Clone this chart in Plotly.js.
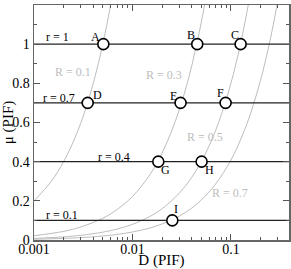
<!DOCTYPE html>
<html>
<head>
<meta charset="utf-8">
<script src="https://cdn.plot.ly/plotly-3.0.1.min.js"></script>
<style>html,body{margin:0;padding:0;background:#fff;}#chart{width:291px;height:269px;}</style>
</head>
<body>
<div id="chart"></div>
<script>
// Iso-R curves (D, mu)
const curveR01D = [0.001, 0.0015, 0.002, 0.0025, 0.003, 0.0035, 0.004, 0.0045, 0.005, 0.0055, 0.006, 0.0065];
const curveR01M = [0.2, 0.3, 0.4, 0.5, 0.6, 0.7, 0.8, 0.9, 1.0, 1.1, 1.2, 1.3];
const curveR03D = [0.001, 0.002, 0.003, 0.005, 0.007, 0.01, 0.015, 0.02, 0.025, 0.03, 0.035, 0.04, 0.045, 0.05, 0.055, 0.06];
const curveR03M = [0.022, 0.044, 0.067, 0.111, 0.156, 0.222, 0.333, 0.444, 0.556, 0.667, 0.778, 0.889, 1.0, 1.111, 1.222, 1.333];
const curveR05D = [0.001, 0.002, 0.003, 0.005, 0.007, 0.01, 0.015, 0.02, 0.03, 0.04, 0.05, 0.06, 0.07, 0.08, 0.09, 0.1, 0.11, 0.125, 0.14, 0.15, 0.16];
const curveR05M = [0.008, 0.016, 0.024, 0.04, 0.056, 0.08, 0.12, 0.16, 0.24, 0.32, 0.4, 0.48, 0.56, 0.64, 0.72, 0.8, 0.88, 1.0, 1.12, 1.2, 1.28];
const curveR07D = [0.001, 0.002, 0.003, 0.005, 0.007, 0.01, 0.015, 0.02, 0.03, 0.04, 0.05, 0.07, 0.1, 0.13, 0.16, 0.2, 0.23, 0.26, 0.3, 0.32];
const curveR07M = [0.0041, 0.0082, 0.0122, 0.0204, 0.0286, 0.041, 0.061, 0.082, 0.122, 0.163, 0.204, 0.286, 0.408, 0.531, 0.653, 0.816, 0.939, 1.061, 1.224, 1.306];
const curveLabels = ["R = 0.1", "R = 0.3", "R = 0.5", "R = 0.7"];

// Constant-r lines
const rValues = [1, 0.7, 0.4, 0.1];
const rLabels = ["r = 1", "r = 0.7", "r = 0.4", "r = 0.1"];

// Marked points
const ptNames = ["A", "B", "C", "D", "E", "F", "G", "H", "I"];
const ptD = [0.00506, 0.0455, 0.1255, 0.00351, 0.0308, 0.0883, 0.0183, 0.0504, 0.0254];
const ptM = [1, 1, 1, 0.7, 0.7, 0.7, 0.4, 0.4, 0.1];

const xTickVals = [0.001, 0.01, 0.1];
const xTickText = ["0.001", "0.01", "0.1"];
const xMinorVals = [0.002, 0.003, 0.004, 0.005, 0.006, 0.007, 0.008, 0.009, 0.02, 0.03, 0.04, 0.05, 0.06, 0.07, 0.08, 0.09, 0.2, 0.3];

const serif = "Liberation Serif, Times New Roman, serif";
const gray = "#bdbdbd";
const traces = [];
[[curveR01D, curveR01M], [curveR03D, curveR03M], [curveR05D, curveR05M], [curveR07D, curveR07M]].forEach(c => {
  traces.push({x: c[0], y: c[1], mode: "lines", line: {color: gray, width: 1, shape: "spline"}, hoverinfo: "skip"});
});
rValues.forEach(r => {
  traces.push({x: [0.0009, 0.5], y: [r, r], mode: "lines", line: {color: "#222", width: 1.2}, hoverinfo: "skip"});
});
traces.push({x: ptD, y: ptM, mode: "markers", cliponaxis: false,
  marker: {symbol: "circle", size: 11, color: "#fff", line: {color: "#000", width: 1.6}}});

const ptShift = [[-8, 7], [-6, 9], [-6, 9], [10, 8], [-7, 7], [-5, 10], [7, -8], [8, -8], [4, 11]];
const annotations = [];
ptNames.forEach((n, i) => {
  annotations.push({x: Math.log10(ptD[i]), y: ptM[i], xref: "x", yref: "y", text: n, showarrow: false,
    xshift: ptShift[i][0], yshift: ptShift[i][1], font: {family: serif, size: 12, color: "#000"}});
});
const rPos = [[-2.766, 1.037], [-2.746, 0.727], [-2.188, 0.425], [-2.716, 0.128]];
rLabels.forEach((t, i) => {
  annotations.push({x: rPos[i][0], y: rPos[i][1], xref: "x", yref: "y", text: t, showarrow: false,
    font: {family: serif, size: 12, color: "#000"}});
});
const RPos = [[-2.604, 0.86], [-1.68, 0.843], [-1.264, 0.526], [-1.01, 0.24]];
curveLabels.forEach((t, i) => {
  annotations.push({x: RPos[i][0], y: RPos[i][1], xref: "x", yref: "y", text: t, showarrow: false,
    font: {family: serif, size: 12, color: gray}});
});

const layout = {
  width: 291, height: 269,
  margin: {l: 34, r: 2, t: 5, b: 29},
  paper_bgcolor: "#fff", plot_bgcolor: "#fff",
  showlegend: false,
  font: {family: serif, size: 14, color: "#000"},
  xaxis: {
    type: "log", range: [-3, -0.41],
    tickvals: xTickVals, ticktext: xTickText,
    ticks: "inside", ticklen: 6, tickwidth: 1, tickcolor: "#555",
    showgrid: false, zeroline: false,
    showline: true, linecolor: "#666", linewidth: 1.5, mirror: "ticks",
    minor: {ticks: "inside", ticklen: 3, tickcolor: "#555", showgrid: false, tickvals: xMinorVals},
    tickfont: {family: serif, size: 14}, ticklabelstandoff: -4,
    title: {text: "D (PIF)", font: {family: serif, size: 15}, standoff: 6}
  },
  yaxis: {
    range: [0, 1.2], dtick: 0.2, tick0: 0,
    ticks: "inside", ticklen: 6, tickwidth: 1, tickcolor: "#555",
    showgrid: false, zeroline: false,
    showline: true, linecolor: "#666", linewidth: 1.5, mirror: "ticks",
    minor: {ticks: "inside", ticklen: 3, dtick: 0.1, tickcolor: "#555", showgrid: false},
    tickfont: {family: serif, size: 14},
    title: {text: "μ (PIF)", font: {family: serif, size: 15}, standoff: 4}
  },
  annotations: annotations
};
Plotly.newPlot("chart", traces, layout, {staticPlot: true, displayModeBar: false});
</script>
</body>
</html>
